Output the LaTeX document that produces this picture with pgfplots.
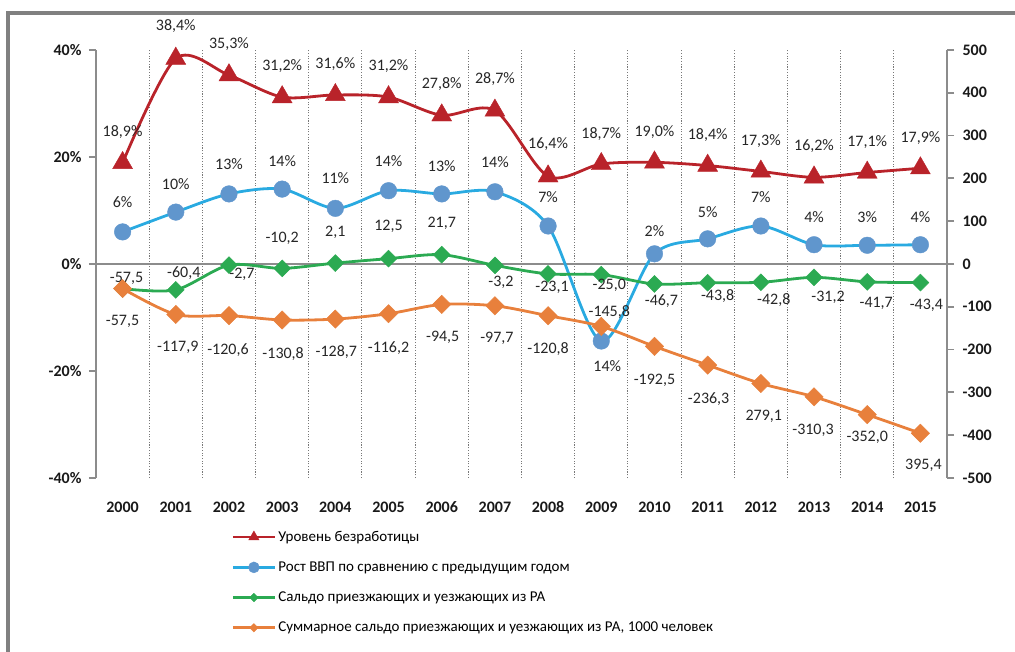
\documentclass[border=0pt]{standalone}
\usepackage{fontspec}
\setmainfont{Carlito}
\usepackage{pgfplots}
\usepackage{pgfplotstable}
\pgfplotsset{compat=1.18}

\definecolor{cred}{RGB}{185,35,42}
\definecolor{cblue}{RGB}{41,170,225}
\definecolor{cbluem}{RGB}{96,150,205}
\definecolor{cgreen}{RGB}{43,170,82}
\definecolor{corange}{RGB}{232,128,60}
\definecolor{axgray}{RGB}{140,140,140}
\definecolor{gridgray}{RGB}{120,120,120}
\definecolor{framegray}{RGB}{128,128,128}

\newcommand\lbl{\fontsize{16}{19}\selectfont}
\newcommand\tkl{\fontsize{16}{19}\selectfont\bfseries}
\newcommand\lgd{\fontsize{15}{18}\selectfont}

% unemployment, % (left axis)
\pgfplotstableread{
x y lab dx dy
0 18.9 18,9 0 31
1 38.4 38,4 0 32
2 35.3 35,3 0 31
3 31.2 31,2 0 31
4 31.6 31,6 0 31
5 31.2 31,2 0 31
6 27.8 27,8 0 31
7 28.7 28,7 0 31
8 16.4 16,4 0 32
9 18.7 18,7 0 30
10 19.0 19,0 0 30
11 18.4 18,4 0 30
12 17.3 17,3 0 30
13 16.2 16,2 0 31
14 17.1 17,1 0 30
15 17.9 17,9 0 30
}\redtab

% GDP growth, % (left axis)
\pgfplotstableread{
x y lab dx dy
0 6.0 6 0 30
1 9.7 10 0 28
2 13.1 13 0 30
3 14.0 14 0 28
4 10.4 11 0 30
5 13.7 14 0 30
6 13.1 13 0 28
7 13.5 14 0 30
8 7.1 7 0 29
9 -14.4 14 6 -25
10 1.9 2 0 23
11 4.7 5 0 27
12 7.1 7 0 29
13 3.6 4 0 28
14 3.5 3 0 28
15 3.6 4 0 28
}\bluetab

% migration balance (right axis)
\pgfplotstableread{
x y lab dx dy
0 -57.5 -57,5 4 10
1 -60.4 -60,4 8 17
2 -2.7 -2,7 13 -9
3 -10.2 -10,2 0 30
4 2.1 2,1 0 31
5 12.5 12,5 0 32
6 21.7 21,7 0 31
7 -3.2 -3,2 6 -17
8 -23.1 -23,1 4 -13
9 -25.0 -25,0 8 -11
10 -46.7 -46,7 7 -17
11 -43.8 -43,8 10 -13
12 -42.8 -42,8 13 -18
13 -31.2 -31,2 14 -20
14 -41.7 -41,7 9 -22
15 -43.4 -43,4 6 -23
}\greentab

% cumulative migration balance, 1000 persons (right axis)
\pgfplotstableread{
x y lab dx dy
0 -57.5 -57,5 0 -33
1 -117.9 -117,9 2 -33
2 -120.6 -120,6 -1 -35
3 -130.8 -130,8 1 -34
4 -128.7 -128,7 1 -33
5 -116.2 -116,2 0 -34
6 -94.5 -94,5 1 -33
7 -97.7 -97,7 2 -33
8 -120.8 -120,8 0 -33
9 -145.8 -145,8 8 14
10 -192.5 -192,5 0 -34
11 -236.3 -236,3 1 -34
12 -279.1 279,1 3 -33
13 -310.3 -310,3 -1 -34
14 -352.0 -352,0 0 -23
15 -395.4 395,4 3 -32
}\orangetab

\pgfplotsset{
  labels/.style={
    point meta=explicit symbolic,
    nodes near coords={#1},
    visualization depends on={\thisrow{dx} \as \labdx},
    visualization depends on={\thisrow{dy} \as \labdy},
    every node near coord/.append style={anchor=center, xshift=\labdx pt,
      yshift=\labdy pt, font=\lbl, text=black!85, inner sep=0pt},
  },
  base/.style={
    at={(96pt,174pt)}, anchor=south west,
    scale only axis, width=851pt, height=428pt,
    xmin=-0.5, xmax=15.5, clip=false,
  },
}

\begin{document}
\begin{tikzpicture}
\useasboundingbox (0pt,0pt) rectangle (1015pt,652pt);
\draw[framegray, line width=4pt] (8pt,-2pt) -- (8pt,639pt) -- (1017pt,639pt);

\begin{axis}[base,
  ymin=-40, ymax=40,
  axis x line*=bottom, axis y line*=left,
  x axis line style={draw=none},
  y axis line style={draw=axgray, line width=1.8pt, -},
  xtick={0,...,15},
  xticklabels={2000,2001,2002,2003,2004,2005,2006,2007,2008,2009,2010,2011,2012,2013,2014,2015},
  xtick style={draw=none},
  minor xtick={0.5,1.5,...,14.5},
  minor x tick style={draw=none},
  xminorgrids=true,
  minor grid style={draw=gridgray, line width=1.1pt, dash pattern=on 1.1pt off 1.6pt},
  ytick={-40,-20,0,20,40},
  yticklabels={-40\%,-20\%,0\%,20\%,40\%},
  ytick style={draw=axgray, line width=1.8pt},
  tick align=outside, major tick length=7pt,
  ticklabel style={font=\tkl, text=black!90},
  xticklabel style={yshift=-13pt},
  yticklabel style={xshift=-4pt},
]
\addplot[draw=axgray, line width=1.4pt, forget plot] coordinates {(-0.5,0) (15.5,0)};
\addplot[cred, line width=2.8pt, smooth, mark=triangle*, mark size=11.5pt,
  mark options={solid, fill=cred, line width=0.4pt}, labels={\pgfplotspointmeta\%}]
  table[x=x, y=y, meta=lab] {\redtab};
\addplot[cblue, line width=2.8pt, smooth, mark=*, mark size=8.3pt,
  mark options={solid, draw=cbluem, fill=cbluem, line width=0.4pt}, labels={\pgfplotspointmeta\%}]
  table[x=x, y=y, meta=lab] {\bluetab};
\end{axis}

\begin{axis}[base,
  ymin=-500, ymax=500,
  axis x line=none, axis y line*=right,
  y axis line style={draw=axgray, line width=1.8pt, -},
  ytick={-500,-400,...,500},
  yticklabels={-500,-400,-300,-200,-100,0,100,200,300,400,500},
  ytick style={draw=axgray, line width=1.8pt},
  tick align=outside, major tick length=7pt,
  yticklabel style={font=\tkl, text=black!90, xshift=5pt},
  legend cell align=left,
  legend style={at={(axis description cs:0.159,-0.119)}, anchor=north west,
    draw=none, fill=none, font=\lgd, row sep=15pt, inner sep=0pt},
  legend image code/.code={\draw[mark repeat=2, mark phase=2, #1]
    plot coordinates {(0pt,0pt) (21pt,0pt) (42pt,0pt)};},
]
\addlegendimage{cred, line width=2.8pt, mark=triangle*, mark size=6pt, mark options={solid, fill=cred, line width=0.4pt}}
\addlegendentry{Уровень безработицы}
\addlegendimage{cblue, line width=2.8pt, mark=*, mark size=5.5pt, mark options={solid, draw=cbluem, fill=cbluem, line width=0.4pt}}
\addlegendentry{Рост ВВП по сравнению с предыдущим годом}
\addlegendimage{cgreen, line width=2.8pt, mark=square*, mark size=3pt, mark options={solid, rotate=45, fill=cgreen, line width=0.4pt}}
\addlegendentry{Сальдо приезжающих и уезжающих из РА}
\addlegendimage{corange, line width=2.8pt, mark=square*, mark size=3pt, mark options={solid, rotate=45, fill=corange, line width=0.4pt}}
\addlegendentry{Суммарное сальдо приезжающих и уезжающих из РА, 1000 человек}

\addplot[cgreen, line width=2.8pt, smooth, mark=square*, mark size=6pt,
  mark options={solid, rotate=45, fill=cgreen, line width=0.4pt}, forget plot, labels={\pgfplotspointmeta}]
  table[x=x, y=y, meta=lab] {\greentab};
\addplot[corange, line width=2.8pt, smooth, mark=square*, mark size=6.5pt,
  mark options={solid, rotate=45, fill=corange, line width=0.4pt}, forget plot, labels={\pgfplotspointmeta}]
  table[x=x, y=y, meta=lab] {\orangetab};
\end{axis}
\end{tikzpicture}
\end{document}
